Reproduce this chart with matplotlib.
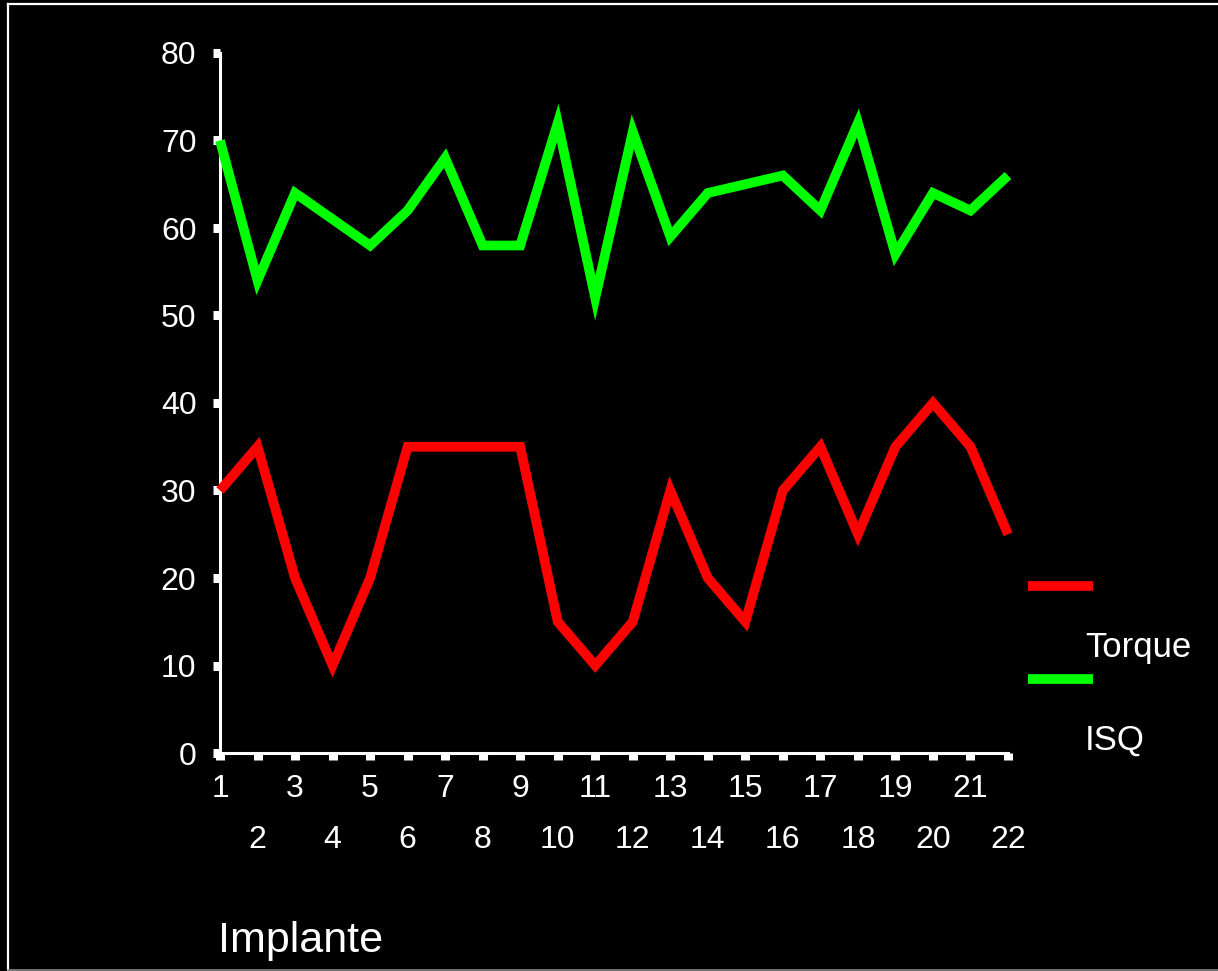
import matplotlib
matplotlib.use("Agg")
import matplotlib.pyplot as plt
from matplotlib.lines import Line2D

implants = list(range(1, 23))
torque = [30, 35, 20, 10, 20, 35, 35, 35, 35, 15, 10, 15, 30, 20, 15, 30, 35, 25, 35, 40, 35, 25]
isq = [70, 54, 64, 61, 58, 62, 68, 58, 58, 72, 52, 71, 59, 64, 65, 66, 62, 72, 57, 64, 62, 66]
yticks = [0, 10, 20, 30, 40, 50, 60, 70, 80]
series_names = ["Torque", "ISQ"]
series_colors = ["#FF0000", "#00FF00"]
xlabel = "Implante"

plt.rcParams['font.family'] = ['Liberation Sans', 'DejaVu Sans']

W, H = 1218, 971
fig = plt.figure(figsize=(W / 100, H / 100), dpi=100, facecolor='black')
ax = fig.add_axes([220 / W, 1 - 753 / H, (1008 - 220) / W, (753 - 53) / H])
ax.set_facecolor('black')

for vals, col in zip([torque, isq], series_colors):
    ax.plot(implants, vals, color=col, lw=7, solid_joinstyle='miter',
            solid_capstyle='butt', clip_on=False, zorder=3)

ax.set_xlim(1, 22)
ax.set_ylim(0, 80)
for s in ['top', 'right']:
    ax.spines[s].set_visible(False)
for s in ['left', 'bottom']:
    ax.spines[s].set_color('white')
    ax.spines[s].set_linewidth(2.2)

odd = [i for i in implants if i % 2 == 1]
even = [i for i in implants if i % 2 == 0]
ax.set_xticks(odd, [str(i) for i in odd])
ax.set_xticks(even, [str(i) for i in even], minor=True)
ax.set_yticks(yticks, [str(v) for v in yticks])

ax.tick_params(axis='both', which='both', colors='white', direction='out',
               length=5, width=6.5, labelsize=23, labelcolor='white')
ax.tick_params(axis='x', which='major', pad=10)
ax.tick_params(axis='x', which='minor', pad=46.5)
ax.tick_params(axis='y', which='major', pad=12)

fig.text(218 / W, 1 - 952 / H, xlabel, color='white', fontsize=31,
         ha='left', va='baseline')

# legend (manual layout as in reference)
leg_y = [586, 679]
txt_y = [657, 750]
for name, col, ly, ty in zip(series_names, series_colors, leg_y, txt_y):
    fig.add_artist(Line2D([1028 / W, 1093 / W], [1 - ly / H, 1 - ly / H],
                          color=col, lw=7, solid_capstyle='butt'))
    t = fig.text(1085 / W, 1 - ty / H, name, color='white', fontsize=25,
                 ha='left', va='baseline')

# frame border
fig.add_artist(Line2D([8 / W, 8 / W], [0, 1 - 4 / H], color='white', lw=1.6))
fig.add_artist(Line2D([8 / W, 1], [1 - 4 / H, 1 - 4 / H], color='white', lw=1.6))
fig.add_artist(Line2D([8 / W, 1], [1.2 / H, 1.2 / H], color='#888888', lw=1.2))

fig.savefig('out.png', dpi=100, facecolor='black')
